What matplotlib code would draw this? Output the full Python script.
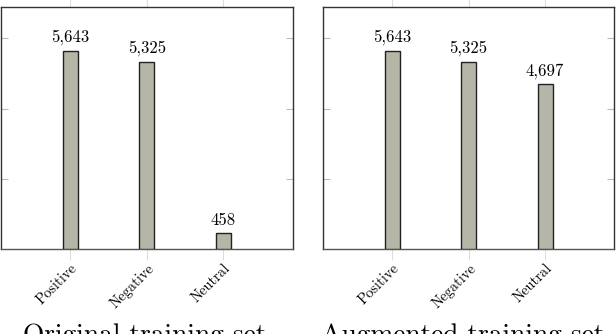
import matplotlib
matplotlib.use("Agg")
import matplotlib.pyplot as plt

categories = ["Positive", "Negative", "Neutral"]
original_counts = [5643, 5325, 458]
augmented_counts = [5643, 5325, 4697]
titles = ["Original training set", "Augmented training set"]
value_labels_original = ["5,643", "5,325", "458"]
value_labels_augmented = ["5,643", "5,325", "4,697"]
yticks = [2000, 4000, 6000]

plt.rcParams["font.family"] = ["cmr10", "DejaVu Serif"]
plt.rcParams["axes.formatter.use_mathtext"] = True

W, H = 616, 334
fig = plt.figure(figsize=(W / 100, H / 100), dpi=100)

def px_axes(x0, y0, x1, y1):
    return fig.add_axes([x0 / W, 1 - y1 / H, (x1 - x0) / W, (y1 - y0) / H])

axes = [px_axes(1, 7.3, 292.5, 249.3), px_axes(323.3, 7.3, 614, 249.3)]
data = [original_counts, augmented_counts]
labels = [value_labels_original, value_labels_augmented]
title_centers = [145, 463]

for ax, vals, labs, title, tc in zip(axes, data, labels, titles, title_centers):
    x = list(range(len(categories)))
    bars = ax.bar(x, vals, width=0.195, color="#b5b5a8", edgecolor="#222222",
                  linewidth=1.0, zorder=3)
    for b, lab in zip(bars, labs):
        ax.annotate(lab, (b.get_x() + b.get_width() / 2, b.get_height()),
                    xytext=(0, 4), textcoords="offset points",
                    ha="center", va="bottom", fontsize=12)
    ax.set_xlim(-0.9, 2.9)
    ax.set_ylim(0, 6880)
    ax.set_yticks(yticks)
    ax.set_yticklabels([])
    ax.set_xticks(x)
    ax.set_xticklabels(categories, rotation=45, ha="right", rotation_mode="anchor",
                       fontsize=10.5)
    ax.tick_params(axis="y", direction="in", length=5, color="#bbbbbb",
                   left=True, right=True, width=0.8)
    ax.tick_params(axis="x", direction="out", length=8, color="#dddddd",
                   top=True, bottom=True, width=0.8, pad=1)
    for s in ax.spines.values():
        s.set_color("#333333")
        s.set_linewidth(1.0)
    ax.spines["bottom"].set_color("#555555")
    fig.text(tc / W, 1 - 342 / H, title, ha="center", va="baseline", fontsize=19.7)

fig.savefig("out.png", dpi=100)
